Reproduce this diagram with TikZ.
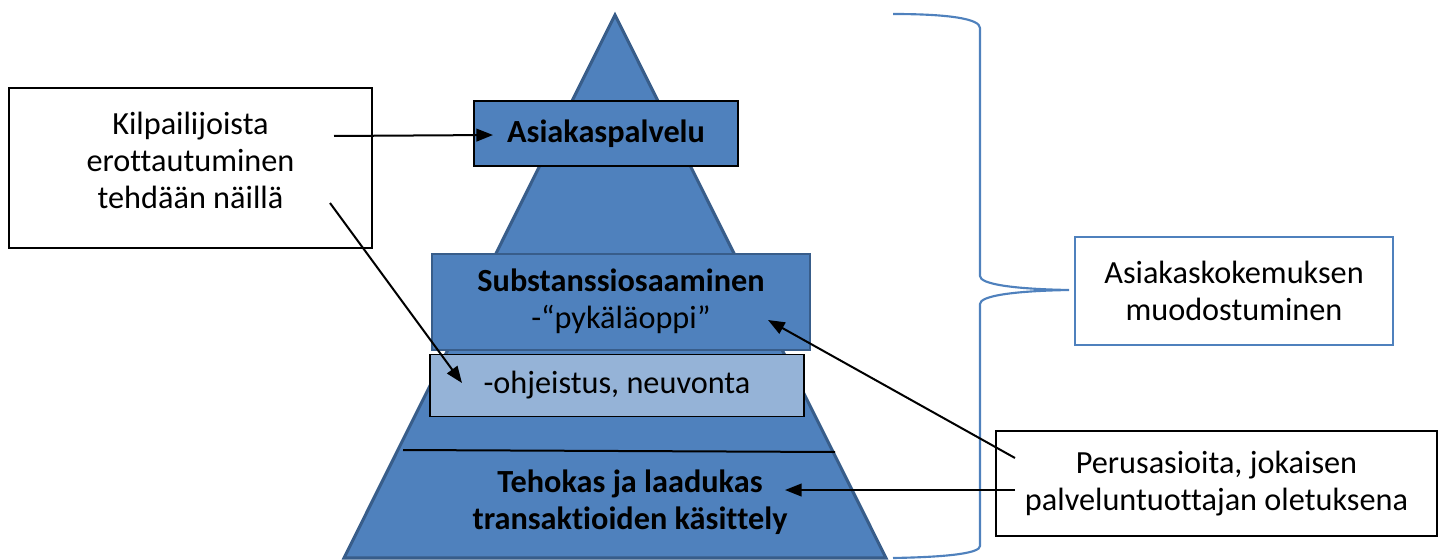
\documentclass[tikz,border=0pt]{standalone}
\usepackage{fontspec}
\setmainfont{Carlito}[Ligatures=NoCommon]
\usetikzlibrary{arrows.meta}

\definecolor{layerblue}{RGB}{79,129,189}
\definecolor{layeredge}{RGB}{56,93,138}
\definecolor{layerlight}{RGB}{149,179,215}

\tikzset{
layerbox/.style={draw=black, fill=layerblue, line width=1.1pt, inner sep=0pt, align=center},
notebox/.style={draw=black, fill=white, line width=1.5pt, inner sep=0pt, align=center},
pointer/.style={line width=1.5pt, -{Triangle[length=12.5pt,width=9.5pt]}},
bracepen/.style={draw=layerblue, line width=1.6pt}}
\tikzset{every picture/.style={line width=0.75pt}}

\begin{document}
\begin{tikzpicture}[x=0.75pt,y=0.75pt,yscale=-1,xscale=1,font=\fontsize{24.2}{27.75}\selectfont]
\useasboundingbox (0,0) rectangle (1443,560);

%Shape: Triangle [id:pyramid]
\draw [draw=layeredge, fill=layerblue, line width=2.3pt] (615,15) -- (886,558) -- (344,558) -- cycle ;
%Straight Lines [id:baseline]
\draw [line width=1.5pt] (403,450) -- (835,452) ;

% Text Node
\node [layerbox, minimum width=198pt, minimum height=49pt, font=\fontsize{24.2}{27.75}\selectfont\bfseries] (palvelu) at (606,133.5) {Asiakaspalvelu};
% Text Node
\node [layerbox, draw=layeredge, line width=1.5pt, minimum width=283.5pt, minimum height=72pt] (substanssi) at (621,301.5) {\textbf{Substanssiosaaminen}\\-“pykäläoppi”};
% Text Node
\node [layerbox, fill=layerlight, minimum width=280.5pt, minimum height=46.5pt] (ohjeistus) at (617,385.5) {-ohjeistus, neuvonta};
% Text Node
\node [align=center, inner sep=0pt, font=\fontsize{24.2}{27.75}\selectfont\bfseries] (tehokas) at (630,502) {Tehokas ja laadukas\\transaktioiden käsittely};

%Flowchart: Process [id:kilpailu]
\node [notebox, minimum width=272pt, minimum height=120pt] (kilpailu) at (190.5,168) {};
% Text Node
\node [align=center, inner sep=0pt] (kilpailuteksti) at (190.5,160) {Kilpailijoista\\erottautuminen\\tehdään näillä};
% Text Node
\node [notebox, minimum width=330.75pt, minimum height=78.75pt] (perus) at (1216.5,483.5) {Perusasioita, jokaisen\\palveluntuottajan oletuksena};
% Text Node
\node [notebox, draw=layerblue, line width=1.8pt, minimum width=238.5pt, minimum height=81pt] (kokemus) at (1234,291) {Asiakaskokemuksen\\muodostuminen};

%Curly brace [id:brace]
\coordinate (bracetip) at (1069,290);
\draw [bracepen] (893,14) .. controls (950,14) and (980,19) .. (980,28) -- (980,276) .. controls (980,284) and (1012,289) .. (bracetip) .. controls (1012,291) and (980,296) .. (980,304) -- (980,546) .. controls (980,553) and (950,557) .. (893,558) ;

%Straight Lines [id:arrows]
\coordinate (k1) at (334,136);
\coordinate (k2) at (330,203);
\coordinate (p1) at (1015,458);
\coordinate (p2) at (1015,490);
\coordinate (palvelutip) at (493,135);
\coordinate (ohjeistustip) at (462,383);
\coordinate (substanssitip) at (768,320);
\coordinate (tehokastip) at (785,490);
\draw [pointer] (k1) -- (palvelutip) ;
\draw [pointer] (k2) -- (ohjeistustip) ;
\draw [pointer] (p1) -- (substanssitip) ;
\draw [pointer] (p2) -- (tehokastip) ;

\end{tikzpicture}
\end{document}
